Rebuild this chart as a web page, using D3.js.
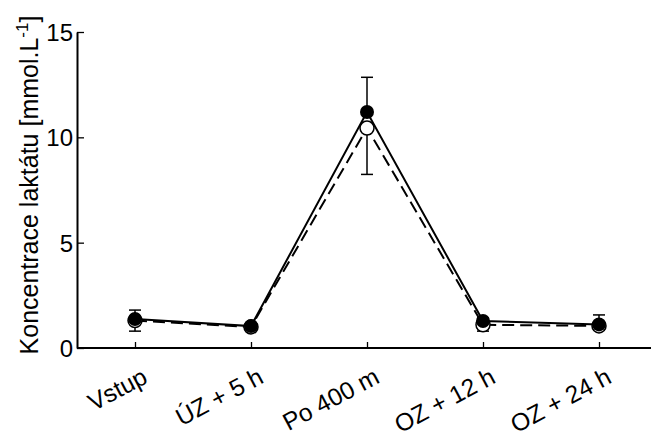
<!DOCTYPE html>
<head>
    <style>
        * { padding: 0; margin: 0; }
        body { background: #fff; }
        text { font-family: "Liberation Sans", Arial, sans-serif; fill: #000; }
    </style>
    <script src="https://d3js.org/d3.v7.min.js"></script>
</head>

<body>
    <script>

        /////////////////////////////////////////////////////
        // DATA
        /////////////////////////////////////////////////////

        const categories = ["Vstup", "ÚZ + 5 h", "Po 400 m", "OZ + 12 h", "OZ + 24 h"]
        //filled circles, solid line (error bar upwards)
        const filledMean = [1.38, 1.04, 11.2, 1.28, 1.12]
        const filledSD = [0.42, 0.15, 1.65, 0.15, 0.45]
        //open circles, dashed line (error bar downwards)
        const openMean = [1.3, 1.0, 10.44, 1.1, 1.05]
        const openSD = [0.5, 0.15, 2.2, 0.3, 0.2]
        const yTicks = [0, 5, 10, 15]

        /////////////////////////////////////////////////////
        // SETUP
        /////////////////////////////////////////////////////

        const width = 651
        const height = 432
        const mLeft = 77, mBottom = 348, mTop = 32

        const svg = d3.select("body").append("svg")
            .attr("width", width)
            .attr("height", height)

        const x = d3.scalePoint()
            .domain(categories)
            .range([mLeft, 657])
            .padding(0.5)

        const y = d3.scaleLinear()
            .domain([0, 15])
            .range([mBottom, mTop])

        /////////////////////////////////////////////////////
        // AXES
        /////////////////////////////////////////////////////

        const xAxis = svg.append("g")
            .attr("transform", `translate(0,${mBottom})`)
            .call(d3.axisBottom(x).tickSizeInner(-6).tickSizeOuter(0).tickFormat(""))
        xAxis.select(".domain").attr("stroke-width", 2).attr("d", `M${mLeft},0H${width}`)
        xAxis.selectAll(".tick line").attr("stroke-width", 1.3)

        const yAxis = svg.append("g")
            .attr("transform", `translate(${mLeft},0)`)
            .call(d3.axisLeft(y).tickValues(yTicks).tickSizeInner(-7).tickSizeOuter(0))
        yAxis.select(".domain").attr("stroke-width", 2)
        yAxis.selectAll(".tick line").attr("stroke-width", 1.3)
        yAxis.selectAll(".tick text")
            .attr("x", -4)
            .attr("dy", "0.36em")
            .style("font-size", "24px")
            .style("font-family", "Liberation Sans, Arial, sans-serif")

        //rotated category labels
        svg.append("g").selectAll("text")
            .data(categories)
            .join("text")
            .attr("transform", d => `translate(${x(d) + 14},${mBottom + 34}) rotate(-28)`)
            .attr("text-anchor", "end")
            .style("font-size", "24.5px")
            .text(d => d)

        //y label
        const yLabel = svg.append("text")
            .attr("transform", `translate(38,185) rotate(-90)`)
            .attr("text-anchor", "middle")
            .style("font-size", "25px")
        yLabel.append("tspan").text("Koncentrace laktátu [mmol.L")
        yLabel.append("tspan").attr("dy", -10).style("font-size", "17px").text("-1")
        yLabel.append("tspan").attr("dy", 10).text("]")

        /////////////////////////////////////////////////////
        // SERIES
        /////////////////////////////////////////////////////

        const line = d3.line()
            .x((d, i) => x(categories[i]))
            .y(d => y(d))

        svg.append("path")
            .datum(openMean)
            .attr("d", line)
            .attr("fill", "none")
            .attr("stroke", "#000")
            .attr("stroke-width", 2)
            .attr("stroke-dasharray", "12,6")

        svg.append("path")
            .datum(filledMean)
            .attr("d", line)
            .attr("fill", "none")
            .attr("stroke", "#000")
            .attr("stroke-width", 2)

        //error bars
        function errorBars(mean, sd, dir) {
            const g = svg.append("g").attr("stroke", "#000").attr("stroke-width", 1.5)
            mean.forEach((m, i) => {
                const cx = x(categories[i])
                const yEnd = y(m + dir * sd[i])
                g.append("line").attr("x1", cx).attr("x2", cx).attr("y1", y(m)).attr("y2", yEnd)
                g.append("line").attr("x1", cx - 6).attr("x2", cx + 6).attr("y1", yEnd).attr("y2", yEnd)
            })
        }
        errorBars(openMean, openSD, -1)
        errorBars(filledMean, filledSD, 1)

        //open markers
        svg.append("g").selectAll("circle")
            .data(openMean)
            .join("circle")
            .attr("cx", (d, i) => x(categories[i]))
            .attr("cy", d => y(d))
            .attr("r", 7)
            .attr("fill", "#fff")
            .attr("stroke", "#000")
            .attr("stroke-width", 1.5)

        //filled markers
        svg.append("g").selectAll("circle")
            .data(filledMean)
            .join("circle")
            .attr("cx", (d, i) => x(categories[i]))
            .attr("cy", d => y(d))
            .attr("r", 7)
            .attr("fill", "#000")

    </script>
</body>
